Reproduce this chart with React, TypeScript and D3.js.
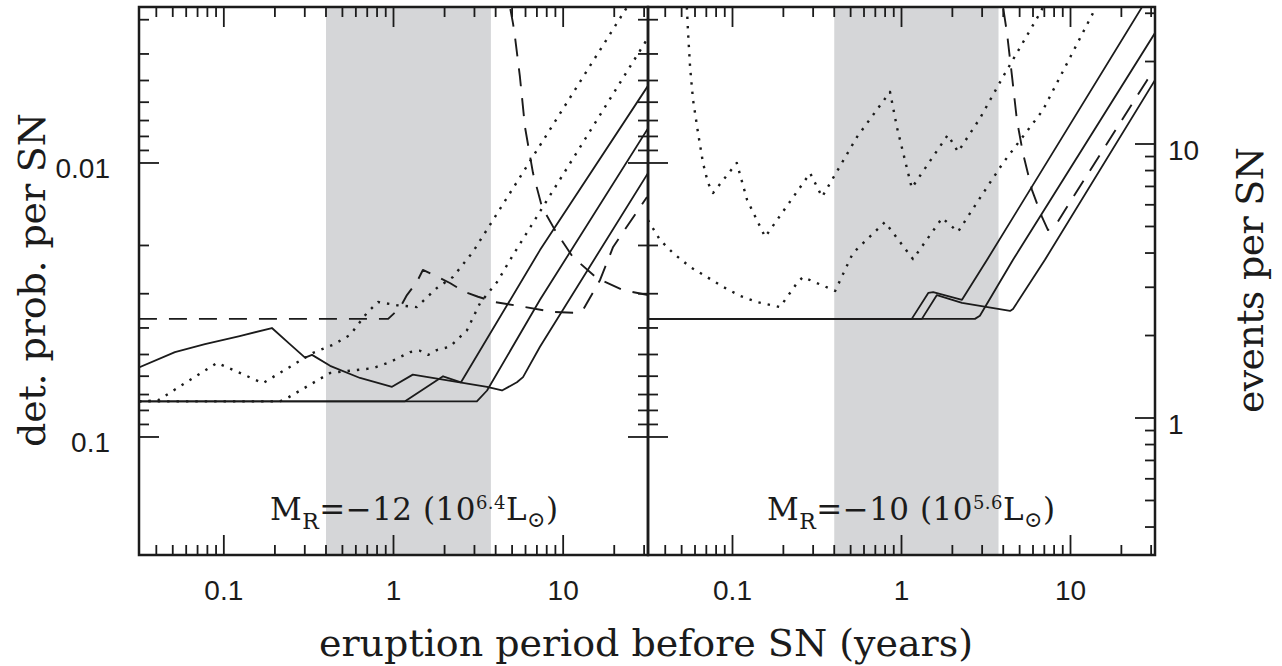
import React from "react";
import * as d3 from "d3";

const WIDTH = 1282;
const HEIGHT = 666;

// ---- axis extents ----
const periodExtent: [number, number] = [Math.pow(10, -1.5), Math.pow(10, 1.5)];
const eventsExtent: [number, number] = [Math.pow(10, -0.5), Math.pow(10, 1.5)];
const probExtent: [number, number] = [0.002696, 0.2696];
const shadedPeriod: [number, number] = [0.4, 3.75];

// ---- ticks ----
const periodMajorTicks = [0.1, 1, 10];
const periodTickLabels = ["0.1", "1", "10"];
const periodMinorTicks = [0.04, 0.05, 0.06, 0.07, 0.08, 0.09, 0.2, 0.3, 0.4, 0.5, 0.6, 0.7, 0.8, 0.9, 2, 3, 4, 5, 6, 7, 8, 9, 20, 30];
const probMajorTicks = [0.01, 0.1];
const probTickLabels = ["0.01", "0.1"];
const probMinorTicks = [0.003, 0.004, 0.005, 0.006, 0.007, 0.008, 0.009, 0.02, 0.03, 0.04, 0.05, 0.06, 0.07, 0.08, 0.09];
const eventsMajorTicks = [1, 10];
const eventsTickLabels = ["1", "10"];
const eventsMinorTicks = [0.4, 0.5, 0.6, 0.7, 0.8, 0.9, 2, 3, 4, 5, 6, 7, 8, 9, 20, 30];

// ---- panel labels ----
const panelMagnitudes = ["\u221212", "\u221210"];
const panelExponents = ["6.4", "5.6"];

// ---- data: [eruption period (years), events per SN] ----
// Left panel, M_R = -12
const leftSolidA: [number, number][] = [
  [0.0316, 1.53], [0.0515, 1.74], [0.0774, 1.86], [0.124, 1.99], [0.192, 2.13], [0.245, 1.86],
  [0.301, 1.66], [0.331, 1.7], [0.423, 1.55], [0.635, 1.4], [0.98, 1.3], [1.3, 1.44], [3.56, 1.3],
  [4.36, 1.26], [5.34, 1.35], [5.8, 1.41], [7.3, 1.82], [31.6, 7.83],
];
const leftSolidB: [number, number][] = [
  [0.0316, 1.15], [1.17, 1.15], [1.96, 1.42], [2.5, 1.35], [7.3, 4.1], [31.6, 16.3],
];
const leftSolidC: [number, number][] = [
  [0.0316, 1.15], [3.1, 1.15], [3.56, 1.26], [7.3, 2.7], [31.6, 11.4],
];
const leftDottedP: [number, number][] = [
  [0.0316, 1.15], [0.0409, 1.16], [0.0912, 1.59], [0.17, 1.34], [0.336, 1.73], [0.44, 1.85],
  [0.555, 2.01], [0.698, 2.42], [0.81, 2.65], [1.05, 2.58], [1.37, 2.54], [1.8, 2.98], [2.24, 3.27],
  [2.94, 4.04], [23.8, 31.6], [31.6, 41.7],
];
const leftDottedQ: [number, number][] = [
  [0.0316, 1.15], [0.214, 1.15], [0.235, 1.18], [0.423, 1.46], [0.757, 1.52], [0.953, 1.6],
  [1.25, 1.74], [1.43, 1.76], [1.6, 1.7], [1.8, 1.77], [2.15, 1.82], [2.71, 2.09], [3.24, 2.63],
  [4.07, 3.13], [5.06, 3.93], [31.6, 24.4],
];
const leftDashedFlat: [number, number][] = [
  [0.0316, 2.3], [0.93, 2.3], [1.09, 2.52], [1.2, 2.81], [1.37, 3.13], [1.49, 3.47], [1.83, 3.27],
  [2.15, 3.11], [2.64, 2.88], [3.15, 2.77], [3.96, 2.65], [5.96, 2.54], [8.71, 2.44], [11.7, 2.42],
  [13.1, 2.48], [16.5, 3.19], [19.7, 4.21], [31.2, 6.41],
];
const leftDashedSteep: [number, number][] = [
  [4.8, 40], [4.86, 31.6], [5.06, 27.6], [5.2, 24.6], [5.56, 17.6], [5.96, 11.5], [6.64, 7.83],
  [7.5, 5.89], [8.95, 4.85], [11.4, 3.87], [15.8, 3.24], [22.5, 2.93], [31.6, 2.81],
];

// Right panel, M_R = -10
const rightSolidA: [number, number][] = [
  [0.0316, 2.3], [1.15, 2.3], [1.44, 2.86], [1.54, 2.88], [2.28, 2.7], [3.21, 3.78], [26.5, 31.6], [31.6, 37.8],
];
const rightSolidB: [number, number][] = [
  [0.0316, 2.3], [1.32, 2.3], [1.62, 2.81], [2.28, 2.63], [4.39, 2.46], [4.57, 2.5], [7.06, 3.78], [31.6, 17.1],
];
const rightSolidC: [number, number][] = [
  [0.0316, 2.3], [2.72, 2.3], [2.91, 2.36], [4.57, 3.78], [31.6, 25.4],
];
const rightDottedU: [number, number][] = [
  [0.0525, 40], [0.0538, 30.8], [0.0546, 25.4], [0.0561, 19.1], [0.0584, 14.5], [0.0625, 11.0],
  [0.0669, 8.53], [0.0716, 7.21], [0.0767, 6.63], [0.106, 8.53], [0.122, 6.25], [0.156, 4.58],
  [0.288, 7.83], [0.339, 6.41], [0.545, 10.6], [0.855, 15.5], [0.94, 11.5], [1.15, 6.91],
  [1.88, 10.8], [2.16, 9.36], [2.91, 12.4], [3.99, 17.6], [6.61, 30.1], [7.06, 32.7],
];
const rightDottedL: [number, number][] = [
  [0.0316, 5.28], [0.0372, 4.47], [0.0445, 4.0], [0.0561, 3.56], [0.0706, 3.27], [0.0879, 3.01],
  [0.111, 2.79], [0.14, 2.65], [0.191, 2.54], [0.241, 3.11], [0.261, 3.27], [0.405, 2.91],
  [0.516, 4.0], [0.798, 5.19], [1.17, 3.8], [1.74, 5.37], [2.16, 4.78], [2.91, 6.35], [3.99, 8.53],
  [6.87, 13.3], [13.6, 30.1], [14.4, 32.2],
];
const rightDashed: [number, number][] = [
  [3.9, 40], [3.99, 31.6], [4.21, 25.4], [4.51, 17.6], [4.82, 12.2], [5.23, 9.27], [5.92, 6.79],
  [6.78, 5.42], [7.36, 4.85], [8.32, 5.15], [9.53, 5.89], [28.4, 17.1], [31.6, 18.6],
];

type Style = "solid" | "dotted" | "dashed";
const leftSeries: { data: [number, number][]; style: Style }[] = [
  { data: leftSolidA, style: "solid" },
  { data: leftSolidB, style: "solid" },
  { data: leftSolidC, style: "solid" },
  { data: leftDottedP, style: "dotted" },
  { data: leftDottedQ, style: "dotted" },
  { data: leftDashedFlat, style: "dashed" },
  { data: leftDashedSteep, style: "dashed" },
];
const rightSeries: { data: [number, number][]; style: Style }[] = [
  { data: rightSolidA, style: "solid" },
  { data: rightSolidB, style: "solid" },
  { data: rightSolidC, style: "solid" },
  { data: rightDottedU, style: "dotted" },
  { data: rightDottedL, style: "dotted" },
  { data: rightDashed, style: "dashed" },
];

const LINE_STYLES: Record<Style, { dash?: string; width: number }> = {
  solid: { width: 1.8 },
  dotted: { dash: "2.4 7", width: 2.4 },
  dashed: { dash: "18 12", width: 1.9 },
};

const INK = "#1b1b1b";
const TOP = 7;
const BOTTOM = 555;
const PANEL_X = [
  [139, 648],
  [648, 1155],
];
const MAJOR = 20;
const MINOR = 10;
const SERIF = "'DejaVu Serif', 'Liberation Serif', serif";
const SANS = "'Liberation Sans', Arial, sans-serif";

const yEvents = d3.scaleLog().domain(eventsExtent).range([BOTTOM, TOP]);
const yProb = d3.scaleLog().domain(probExtent).range([TOP, BOTTOM]);

function Panel({ index }: { index: number }) {
  const [x0, x1] = PANEL_X[index];
  const x = d3.scaleLog().domain(periodExtent).range([x0, x1]);
  const line = d3
    .line<[number, number]>()
    .x((d) => x(d[0]))
    .y((d) => yEvents(d[1]));
  const series = index === 0 ? leftSeries : rightSeries;
  const clipId = `clip-${index}`;
  const isLeft = index === 0;

  return (
    <g>
      <defs>
        <clipPath id={clipId}>
          <rect x={x0} y={TOP} width={x1 - x0} height={BOTTOM - TOP} />
        </clipPath>
      </defs>
      <rect
        x={x(shadedPeriod[0])}
        y={TOP}
        width={x(shadedPeriod[1]) - x(shadedPeriod[0])}
        height={BOTTOM - TOP}
        fill="#d5d6d8"
      />
      <g clipPath={`url(#${clipId})`}>
        {series.map((s, i) => (
          <path
            key={i}
            d={line(s.data) || ""}
            fill="none"
            stroke={INK}
            strokeWidth={LINE_STYLES[s.style].width}
            strokeDasharray={LINE_STYLES[s.style].dash}
            strokeLinejoin="round"
          />
        ))}
      </g>
      {/* x ticks top & bottom */}
      {periodMajorTicks.map((v) => (
        <g key={`xM${v}`} stroke={INK} strokeWidth={1.8}>
          <line x1={x(v)} x2={x(v)} y1={TOP} y2={TOP + MAJOR} />
          <line x1={x(v)} x2={x(v)} y1={BOTTOM} y2={BOTTOM - MAJOR} />
        </g>
      ))}
      {periodMinorTicks.map((v) => (
        <g key={`xm${v}`} stroke={INK} strokeWidth={1.8}>
          <line x1={x(v)} x2={x(v)} y1={TOP} y2={TOP + MINOR} />
          <line x1={x(v)} x2={x(v)} y1={BOTTOM} y2={BOTTOM - MINOR} />
        </g>
      ))}
      {periodMajorTicks.map((v, i) => (
        <text key={`xl${v}`} x={x(v)} y={600} textAnchor="middle" fontFamily={SANS} fontSize={28} fill={INK}>
          {periodTickLabels[i]}
        </text>
      ))}
      {/* left side: probability ticks pointing inward */}
      {probMajorTicks.map((v) => (
        <line key={`pl${v}`} x1={x0} x2={x0 + MAJOR} y1={yProb(v)} y2={yProb(v)} stroke={INK} strokeWidth={1.8} />
      ))}
      {probMinorTicks.map((v) => (
        <line key={`plm${v}`} x1={x0} x2={x0 + MINOR} y1={yProb(v)} y2={yProb(v)} stroke={INK} strokeWidth={1.8} />
      ))}
      {/* right side */}
      {isLeft
        ? [
            ...probMajorTicks.map((v) => (
              <line key={`pr${v}`} x1={x1} x2={x1 - MAJOR} y1={yProb(v)} y2={yProb(v)} stroke={INK} strokeWidth={1.8} />
            )),
            ...probMinorTicks.map((v) => (
              <line key={`prm${v}`} x1={x1} x2={x1 - MINOR} y1={yProb(v)} y2={yProb(v)} stroke={INK} strokeWidth={1.8} />
            )),
          ]
        : [
            ...eventsMajorTicks.map((v) => (
              <line key={`er${v}`} x1={x1} x2={x1 - MAJOR} y1={yEvents(v)} y2={yEvents(v)} stroke={INK} strokeWidth={1.8} />
            )),
            ...eventsMinorTicks.map((v) => (
              <line key={`erm${v}`} x1={x1} x2={x1 - MINOR} y1={yEvents(v)} y2={yEvents(v)} stroke={INK} strokeWidth={1.8} />
            )),
          ]}
      <rect x={x0} y={TOP} width={x1 - x0} height={BOTTOM - TOP} fill="none" stroke={INK} strokeWidth={2.5} />
      {/* panel annotation */}
      <text
        x={x0 + (isLeft ? 131 : 119)}
        y={520}
        fontFamily={SERIF}
        fontSize={31}
        fill={INK}
        textLength={288}
        lengthAdjust="spacing"
      >
        M
        <tspan dy={9} fontSize={22}>R</tspan>
        <tspan dy={-9}>{`=${panelMagnitudes[index]} (10`}</tspan>
        <tspan dy={-11} fontSize={18}>{panelExponents[index]}</tspan>
        <tspan dy={11}>L</tspan>
        <tspan dy={7} fontSize={22}>{"\u2299"}</tspan>
        <tspan dy={-7}>)</tspan>
      </text>
    </g>
  );
}

export default function App() {
  return (
    <svg
      width={WIDTH}
      height={HEIGHT}
      style={{ position: "absolute", left: 0, top: 0, background: "#fff" }}
    >
      <rect width={WIDTH} height={HEIGHT} fill="#fff" />
      <Panel index={0} />
      <Panel index={1} />
      {probMajorTicks.map((v, i) => (
        <text key={`plab${v}`} x={110} y={yProb(v) + 15.5} textAnchor="end" fontFamily={SANS} fontSize={28} fill={INK}>
          {probTickLabels[i]}
        </text>
      ))}
      {eventsMajorTicks.map((v, i) => (
        <text key={`elab${v}`} x={1168} y={yEvents(v) + 15.5} textAnchor="start" fontFamily={SANS} fontSize={28} fill={INK}>
          {eventsTickLabels[i]}
        </text>
      ))}
      <text
        transform="translate(45,280) rotate(-90)"
        textAnchor="middle"
        fontFamily={SERIF}
        fontSize={38}
        fill={INK}
        textLength={334}
        lengthAdjust="spacing"
      >
        det. prob. per SN
      </text>
      <text
        transform="translate(1263,280) rotate(-90)"
        textAnchor="middle"
        fontFamily={SERIF}
        fontSize={38}
        fill={INK}
        textLength={266}
        lengthAdjust="spacing"
      >
        events per SN
      </text>
      <text
        x={646}
        y={656}
        textAnchor="middle"
        fontFamily={SERIF}
        fontSize={38}
        fill={INK}
        textLength={654}
        lengthAdjust="spacing"
      >
        eruption period before SN (years)
      </text>
    </svg>
  );
}
